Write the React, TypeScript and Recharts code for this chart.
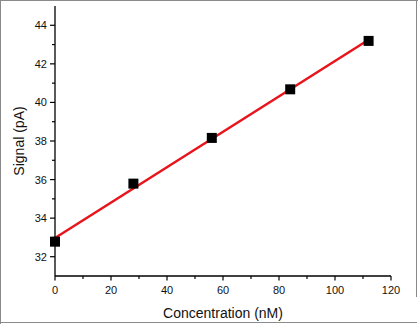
import React from 'react';
import { ComposedChart, XAxis, YAxis, Line, Scatter } from 'recharts';

const concentration = [0, 28, 56, 84, 112];
const signal = [32.78, 35.79, 38.16, 40.68, 43.19];
const fitX = [0, 112];
const fitY = [32.97, 43.25];
const xTicks = [0, 10, 20, 30, 40, 50, 60, 70, 80, 90, 100, 110, 120];
const yTicks = [32, 33, 34, 35, 36, 37, 38, 39, 40, 41, 42, 43, 44];

const points = concentration.map((c, i) => ({ x: c, y: signal[i] }));
const fit = fitX.map((c, i) => ({ x: c, y: fitY[i] }));

const FONT = '"Liberation Sans", Arial, sans-serif';

const XTick = (props: any) => {
  const { x, y, payload } = props;
  const v = payload.value;
  const major = v % 20 === 0;
  return (
    <g>
      <line x1={x} x2={x} y1={y} y2={y + (major ? 4.5 : 3)} stroke="#000" strokeWidth={1.2} />
      {major && (
        <text x={x} y={y + 18} textAnchor="middle" fontSize={11} fill="#111" fontFamily={FONT}>
          {v}
        </text>
      )}
    </g>
  );
};

const YTick = (props: any) => {
  const { x, y, payload } = props;
  const v = payload.value;
  const major = v % 2 === 0;
  return (
    <g>
      <line x1={x - (major ? 5 : 3)} x2={x} y1={y} y2={y} stroke="#000" strokeWidth={1.2} />
      {major && (
        <text x={x - 8} y={y + 4} textAnchor="end" fontSize={11} fill="#111" fontFamily={FONT}>
          {v}
        </text>
      )}
    </g>
  );
};

const SquareDot = (props: any) => {
  const { cx, cy } = props;
  return <rect x={cx - 5} y={cy - 5} width={10} height={10} fill="#000" />;
};

export default function App() {
  return (
    <div style={{ position: 'absolute', left: 0, top: 0, width: 418, height: 325, background: '#fff' }}>
      <div style={{ position: 'absolute', left: 0, top: 0, width: 418, height: 1, background: '#8a8a8a' }} />
      <div style={{ position: 'absolute', left: 0, top: 0, width: 1, height: 324, background: '#8a8a8a' }} />
      <div style={{ position: 'absolute', left: 416, top: 0, width: 1, height: 297, background: '#8a8a8a' }} />
      <div style={{ position: 'absolute', left: 0, top: 322, width: 417, height: 1, background: '#8a8a8a' }} />
      <ComposedChart
        width={418}
        height={325}
        margin={{ top: 6, right: 27, left: 0, bottom: 0 }}
        style={{ position: 'absolute', left: 0, top: 0 }}
      >
        <XAxis
          xAxisId="b"
          dataKey="x"
          type="number"
          domain={[0, 120]}
          ticks={xTicks}
          interval={0}
          height={49}
          tickSize={0}
          tickMargin={0}
          tickLine={false}
          tick={<XTick />}
          axisLine={{ stroke: '#000', strokeWidth: 1.3 }}
          label={{
            content: (p: any) => {
              const vb = p.viewBox;
              return (
                <text x={vb.x + vb.width / 2} y={318} textAnchor="middle" fontSize={14} fill="#111" fontFamily={FONT}>
                  Concentration (nM)
                </text>
              );
            },
          }}
        />
        <XAxis
          xAxisId="t"
          dataKey="x"
          type="number"
          orientation="top"
          domain={[0, 120]}
          height={0}
          tick={false}
          tickLine={false}
          axisLine={{ stroke: '#222', strokeWidth: 1.3 }}
        />
        <YAxis
          yAxisId="l"
          type="number"
          domain={[31, 45]}
          ticks={yTicks}
          interval={0}
          width={55}
          tickSize={0}
          tickMargin={0}
          tickLine={false}
          tick={<YTick />}
          axisLine={{ stroke: '#000', strokeWidth: 1.3 }}
          label={{
            content: (p: any) => {
              const vb = p.viewBox;
              const cx = 19;
              const cy = vb.y + vb.height / 2;
              return (
                <text
                  x={cx}
                  y={cy}
                  transform={`rotate(-90, ${cx}, ${cy})`}
                  textAnchor="middle"
                  dominantBaseline="central"
                  fontSize={14}
                  fill="#111"
                  fontFamily={FONT}
                >
                  Signal (pA)
                </text>
              );
            },
          }}
        />
        <YAxis
          yAxisId="r"
          type="number"
          orientation="right"
          domain={[31, 45]}
          width={0}
          tick={false}
          tickLine={false}
          axisLine={{ stroke: '#222', strokeWidth: 1.3 }}
        />
        <Line
          xAxisId="b"
          yAxisId="l"
          data={fit}
          dataKey="y"
          type="linear"
          stroke="#e8141b"
          strokeWidth={2.5}
          dot={false}
          activeDot={false}
          isAnimationActive={false}
        />
        <Scatter
          xAxisId="b"
          yAxisId="l"
          data={points}
          dataKey="y"
          shape={<SquareDot />}
          isAnimationActive={false}
        />
      </ComposedChart>
    </div>
  );
}
